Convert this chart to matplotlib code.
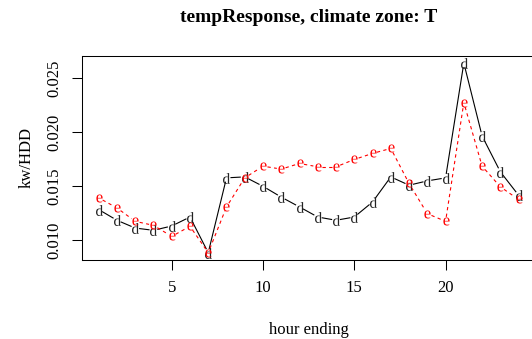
import numpy as np
import matplotlib
matplotlib.use('Agg')
import matplotlib.pyplot as plt

plt.rcParams.update({
    'font.family': 'Liberation Serif', 'font.size': 12,
    'mathtext.fontset': 'custom', 'mathtext.rm': 'Liberation Serif',
    'mathtext.it': 'Liberation Serif',
})

hours = np.arange(1, 25)
d_vals = [0.01285, 0.01186, 0.01114, 0.01093, 0.01133, 0.01216, 0.00886, 0.01578,
          0.01587, 0.01500, 0.01400, 0.01309, 0.01216, 0.01186, 0.01216, 0.01355,
          0.01587, 0.01510, 0.01550, 0.01578, 0.02639, 0.01965, 0.01634, 0.01417]
e_vals = [0.01393, 0.01300, 0.01176, 0.01139, 0.01037, 0.01130, 0.00886, 0.01309,
          0.01578, 0.01686, 0.01659, 0.01711, 0.01680, 0.01680, 0.01748, 0.01804,
          0.01850, 0.01526, 0.01247, 0.01176, 0.02274, 0.01686, 0.01495, 0.01378]
x_ticks = [5, 10, 15, 20]
y_ticks = [0.010, 0.015, 0.020, 0.025]

W, H = 532, 339
fig = plt.figure(figsize=(W / 100, H / 100), dpi=100)
ax = fig.add_axes([81.9 / W, 1 - 260.3 / H, (535.4 - 81.9) / W, (260.3 - 55.5) / H])

# R-style 4% padding
allv = d_vals + e_vals
lo, hi = min(allv), max(allv)
ax.set_xlim(1 - 0.04 * 23, 24 + 0.04 * 23)
ax.set_ylim(lo - 0.04 * (hi - lo), hi + 0.04 * (hi - lo))


def type_b(xs, ys, gap=4.5, **kw):
    # segments stop short of each point, like R type="b"
    pts = ax.transData.transform(np.column_stack([xs, ys]))
    inv = ax.transData.inverted()
    for p0, p1 in zip(pts[:-1], pts[1:]):
        v = p1 - p0
        L = np.hypot(*v)
        if L <= 2 * gap:
            continue
        u = v / L
        seg = inv.transform(np.array([p0 + u * gap, p1 - u * gap]))
        ax.plot(seg[:, 0], seg[:, 1], **kw)


type_b(hours, d_vals, color='black', lw=0.8)
type_b(hours, e_vals, color='red', lw=0.8, dashes=(3, 3))
ax.plot(hours, d_vals, ls='none', marker='$d$', ms=7.8, color='#222222', mew=0)
ax.plot(hours, e_vals, ls='none', marker='$e$', ms=5.8, color='red', mew=0)

ax.set_xticks(x_ticks)
ax.set_yticks(y_ticks)
ax.set_yticklabels([f'{t:.3f}' for t in y_ticks], rotation=90, va='center')
ax.tick_params(direction='out', length=7.2, width=0.75, labelsize=12)
ax.tick_params(axis='x', pad=7)
ax.tick_params(axis='y', pad=7)
for s in ax.spines.values():
    s.set_linewidth(0.75)

ax.set_xlabel('hour ending', fontsize=12, labelpad=19)
ax.set_ylabel('kw/HDD', fontsize=12, labelpad=8)
ax.set_title('tempResponse, climate zone: T', fontsize=14, fontweight='bold', pad=24)

fig.savefig('out.png', dpi=100)
